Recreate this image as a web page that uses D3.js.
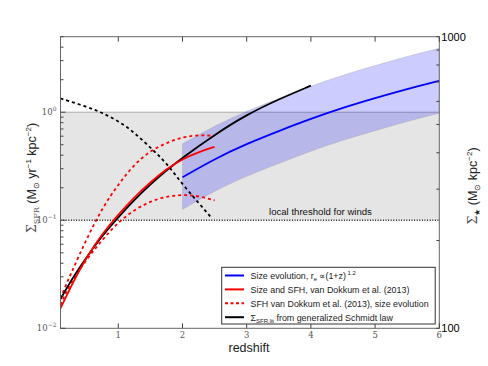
<!DOCTYPE html>
<html lang="en">
<head>
<meta charset="utf-8">
<script src="https://cdn.jsdelivr.net/npm/d3@7"></script>
<style>
body{margin:0;background:#fff}
svg{display:block}
text{font-family:"Liberation Sans",Arial,sans-serif}
.tk{font-family:"DejaVu Serif",serif;fill:#555}
</style>
</head>
<body>
<div id="chart"></div>
<script>
// values (redshift z, Sigma_SFR)
const zBlue=[2,2.5,3,3.5,4,4.5,5,5.5,6]
const blueLine=[0.25,0.37,0.51,0.67,0.87,1.10,1.35,1.64,1.95]
const blueTop=[0.51,0.74,1.02,1.34,1.74,2.2,2.7,3.28,3.9]
const blueBot=[0.126,0.185,0.255,0.335,0.435,0.55,0.675,0.82,0.98]

const zBlack=[0.1,0.3,0.5,0.75,1,1.25,1.5,1.75,2,2.5,3,3.5,4]
const blackLine=[0.0187,0.03,0.045,0.072,0.107,0.155,0.215,0.29,0.38,0.62,0.95,1.32,1.76]

const zRed=[0.1,0.3,0.5,0.75,1,1.25,1.5,1.75,2,2.25,2.5]
const redLine=[0.0153,0.027,0.045,0.075,0.113,0.163,0.225,0.298,0.37,0.428,0.478]

const zRedD=[0.1,0.25,0.5,0.75,1,1.25,1.5,1.75,2,2.25,2.5]
const redUpper=[0.019,0.031,0.066,0.13,0.215,0.33,0.44,0.52,0.59,0.615,0.605]
const redLower=[0.0165,0.026,0.043,0.066,0.096,0.125,0.15,0.166,0.173,0.168,0.153]

const zBlackD=[0.1,0.5,0.75,1,1.25,1.5,1.75,2,2.25,2.46]
const blackDash=[1.34,1.13,0.99,0.83,0.65,0.47,0.34,0.215,0.145,0.104]

const xTicks=[1,2,3,4,5,6]
const legendItems=[
  {c:"blue",dash:null,t:"Size evolution, r",sub:"e",rest:" \u221D(1+z)",sup:" 1.2"},
  {c:"red",dash:null,t:"Size and SFH, van Dokkum et al. (2013)"},
  {c:"red",dash:"3,2.5",t:"SFH van Dokkum et al. (2013), size evolution"},
  {c:"black",dash:null,t:"\u03A3",sub:"SFR,lit",rest:" from generalized Schmidt law"}
]

const W=488,H=366
const m={l:60.5,t:36.7,r:439.3,b:328.3}

const svg=d3.select("#chart").append("svg").attr("width",W).attr("height",H)

const x=d3.scaleLinear().domain([0.1,6]).range([m.l,m.r])
const y=d3.scaleLog().domain([0.01,5]).range([m.b,m.t])
const y2=d3.scaleLog().domain([100,1000]).range([m.b,m.t])

svg.append("defs").append("clipPath").attr("id","clip")
  .append("rect").attr("x",m.l).attr("y",m.t).attr("width",m.r-m.l).attr("height",m.b-m.t)

const plot=svg.append("g").attr("clip-path","url(#clip)")

// grey wind region
plot.append("rect").attr("x",m.l).attr("y",y(1)).attr("width",m.r-m.l).attr("height",y(0.1)-y(1))
  .attr("fill","#e5e5e5")
plot.append("line").attr("x1",m.l).attr("x2",m.r).attr("y1",y(1)).attr("y2",y(1))
  .attr("stroke","#aaa").attr("stroke-width",1)

// blue band
const area=d3.area().x((d,i)=>x(zBlue[i])).y0((d,i)=>y(blueBot[i])).y1(d=>y(d)).curve(d3.curveMonotoneX)
plot.append("path").datum(blueTop).attr("d",area).attr("fill","#0000ff").attr("fill-opacity",0.2)
  .attr("stroke","#999").attr("stroke-opacity",0.5).attr("stroke-width",0.6)

// threshold dotted line
plot.append("line").attr("x1",m.l).attr("x2",m.r).attr("y1",y(0.1)).attr("y2",y(0.1))
  .attr("stroke","#222").attr("stroke-width",1.6).attr("stroke-dasharray","1,1.6")

function drawLine(zs,vs,col,dash,w){
  const ln=d3.line().x((d,i)=>x(zs[i])).y(d=>y(d)).curve(d3.curveBasis)
  const p=plot.append("path").datum(vs).attr("d",ln).attr("fill","none").attr("stroke",col).attr("stroke-width",w)
  if(dash)p.attr("stroke-dasharray",dash)
}
drawLine(zBlue,blueLine,"blue",null,1.8)
drawLine(zRedD,redUpper,"red","3,3",1.8)
drawLine(zRedD,redLower,"red","3,3",1.8)
drawLine(zBlackD,blackDash,"black","3,3",1.8)
drawLine(zBlack,blackLine,"black",null,1.8)
drawLine(zRed,redLine,"red",null,1.8)

svg.append("text").attr("x",269).attr("y",215).attr("font-size",9.6).attr("fill","#111").text("local threshold for winds")

// frame
svg.append("rect").attr("x",m.l).attr("y",m.t).attr("width",m.r-m.l).attr("height",m.b-m.t)
  .attr("fill","none").attr("stroke","#666").attr("stroke-width",1)

// x ticks (bottom + top, inward)
const ax=svg.append("g").attr("stroke","#444").attr("stroke-width",1)
xTicks.forEach(v=>{
  ax.append("line").attr("x1",x(v)).attr("x2",x(v)).attr("y1",m.b).attr("y2",m.b-5)
  ax.append("line").attr("x1",x(v)).attr("x2",x(v)).attr("y1",m.t).attr("y2",m.t+5)
})
svg.selectAll(".xl").data(xTicks).join("text").attr("class","tk")
  .attr("x",d=>x(d)).attr("y",m.b+10).attr("text-anchor","middle").attr("font-size",8.5).text(d=>d)

// left log ticks
y.ticks().forEach(v=>{
  const major=Math.abs(Math.log10(v)-Math.round(Math.log10(v)))<1e-9
  ax.append("line").attr("x1",m.l).attr("x2",m.l+(major?5:3)).attr("y1",y(v)).attr("y2",y(v))
})
;[[1,"0"],[0.1,"\u22121"],[0.01,"\u22122"]].forEach(([v,e])=>{
  const t=svg.append("text").attr("class","tk").attr("x",m.l-4).attr("y",y(v)+3).attr("text-anchor","end").attr("font-size",8.5)
  t.append("tspan").text("10")
  t.append("tspan").attr("dy",-4).attr("font-size",6).text(e)
})

// right log ticks
y2.ticks().forEach(v=>{
  ax.append("line").attr("x1",m.r).attr("x2",m.r-3).attr("y1",y2(v)).attr("y2",y2(v))
})
svg.append("text").attr("x",m.r+2).attr("y",m.t+4).attr("font-size",11).text("1000")
svg.append("text").attr("x",m.r+2).attr("y",m.b+4).attr("font-size",11).text("100")

// axis titles
const yl=svg.append("text").attr("transform","translate(36,178) rotate(-90)").attr("text-anchor","middle").attr("font-size",12.5).attr("fill","#222")
yl.append("tspan").attr("font-family","DejaVu Serif").attr("fill","#555").text("\u03A3")
yl.append("tspan").attr("font-size",8).attr("dy",3).attr("font-family","DejaVu Serif").attr("fill","#555").text("SFR")
yl.append("tspan").attr("dy",-3).text(" (M")
yl.append("tspan").attr("font-size",8).attr("dy",3).text("\u2299")
yl.append("tspan").attr("dy",-3).text(" yr")
yl.append("tspan").attr("font-size",8).attr("dy",-5).text("\u22121")
yl.append("tspan").attr("dy",5).text(" kpc")
yl.append("tspan").attr("font-size",8).attr("dy",-5).text("\u22122")
yl.append("tspan").attr("dy",5).text(")")

const yr=svg.append("text").attr("transform","translate(477,186) rotate(-90)").attr("text-anchor","middle").attr("font-size",12.5).attr("fill","#222")
yr.append("tspan").attr("font-family","DejaVu Serif").attr("fill","#555").text("\u03A3")
yr.append("tspan").attr("font-size",8).attr("dy",3).text("\u2605")
yr.append("tspan").attr("dy",-3).text(" (M")
yr.append("tspan").attr("font-size",8).attr("dy",3).text("\u2299")
yr.append("tspan").attr("dy",-3).text(" kpc")
yr.append("tspan").attr("font-size",8).attr("dy",-5).text("\u22122")
yr.append("tspan").attr("dy",5).text(")")

svg.append("text").attr("x",249).attr("y",352).attr("text-anchor","middle").attr("font-size",12.5).attr("fill","#222").text("redshift")

// legend
const lg=svg.append("g")
lg.append("rect").attr("x",221.7).attr("y",267.3).attr("width",213.5).attr("height",56.7)
  .attr("fill","#fff").attr("stroke","#333").attr("stroke-width",1)
legendItems.forEach((d,i)=>{
  const yy=275.5+i*13.9
  const l=lg.append("line").attr("x1",225).attr("x2",244).attr("y1",yy).attr("y2",yy).attr("stroke",d.c).attr("stroke-width",2)
  if(d.dash)l.attr("stroke-dasharray",d.dash)
  const t=lg.append("text").attr("x",250.5).attr("y",yy+3.3).attr("font-size",8.9).attr("fill","#222")
  t.append("tspan").text(d.t)
  if(d.sub){t.append("tspan").attr("font-size",6).attr("dy",2).text(d.sub);t.append("tspan").attr("dy",-2).text(d.rest)}
  if(d.sup)t.append("tspan").attr("font-size",6).attr("dy",-4).text(d.sup)
})
</script>
</body>
</html>
